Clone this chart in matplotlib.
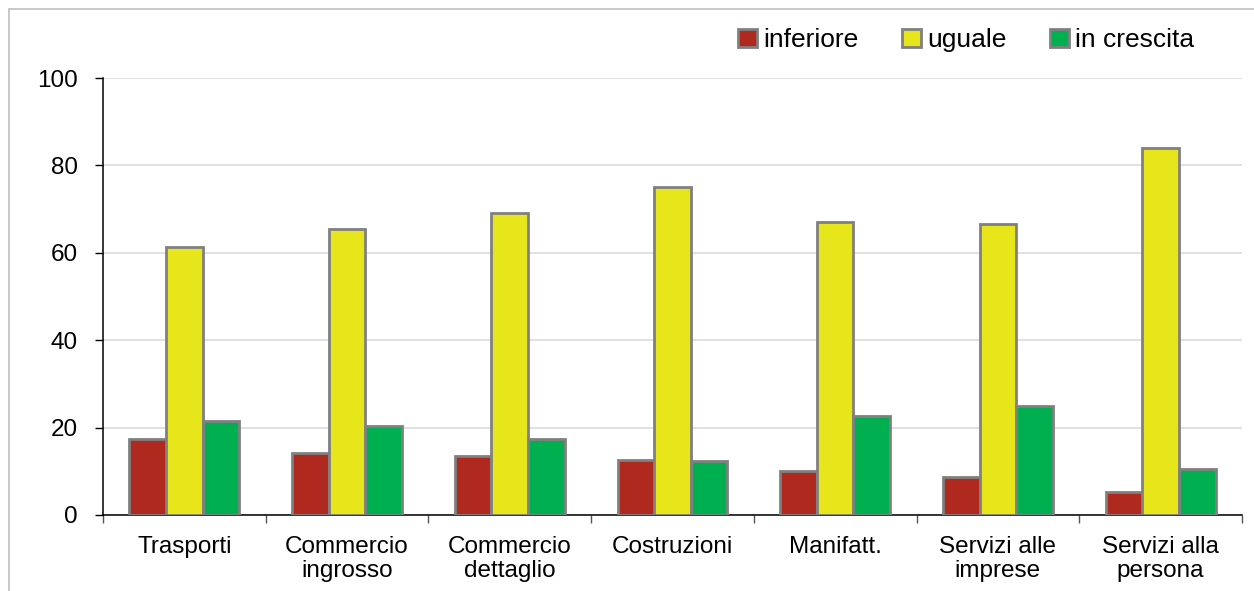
import numpy as np
import matplotlib
matplotlib.use("Agg")
import matplotlib.pyplot as plt
from matplotlib.patches import Rectangle

plt.rcParams['font.family'] = ['Liberation Sans', 'DejaVu Sans']

categorie = ['Trasporti', 'Commercio\ningrosso', 'Commercio\ndettaglio', 'Costruzioni',
             'Manifatt.', 'Servizi alle\nimprese', 'Servizi alla\npersona']
inferiore = [17.3, 14.3, 13.6, 12.6, 10.1, 8.7, 5.2]
uguale = [61.3, 65.5, 69.1, 75.1, 67.0, 66.6, 84.0]
in_crescita = [21.5, 20.4, 17.4, 12.3, 22.7, 24.9, 10.5]

serie = [('inferiore', inferiore, '#B0291E'),
         ('uguale', uguale, '#E6E61A'),
         ('in crescita', in_crescita, '#00AF50')]

fig = plt.figure(figsize=(12.54, 5.91), dpi=100)
ax = fig.add_axes([0.0821, 0.1286, 0.9083, 0.7394])

# cornice grigia del grafico
fig.patches.append(Rectangle((9/1254, -0.5), 2, 1.5 - 9/591, transform=fig.transFigure,
                             fill=False, edgecolor='#BFBFBF', linewidth=1.2))

x = np.arange(len(categorie))
w = 0.225
for i, (nome, val, col) in enumerate(serie):
    ax.bar(x + (i - 1)*w, val, w, color=col, edgecolor='#808080', linewidth=2.0,
           label=nome, zorder=3)

ax.set_ylim(0, 100)
ax.set_xlim(-0.5, len(categorie) - 0.5)
ax.set_yticks(np.arange(0, 101, 20))
ax.yaxis.grid(True, color='#D9D9D9', linewidth=1.1, zorder=0)
ax.set_xticks(np.arange(-0.5, len(categorie)), labels=[])
ax.set_xticks(x, labels=categorie, minor=True)
for t in ax.get_xticklabels(minor=True):
    t.set_linespacing(1.15)
ax.tick_params(axis='x', which='major', length=6, width=1, color='#555555', direction='out')
ax.tick_params(axis='x', which='minor', length=0, pad=15, labelsize=17.5)
ax.tick_params(axis='y', length=6, width=1, pad=12, labelsize=17.5)
for s in ['top', 'right']:
    ax.spines[s].set_visible(False)
ax.spines['left'].set_linewidth(1.1)
ax.spines['bottom'].set_linewidth(1.1)

fig.legend(loc='center right', bbox_to_anchor=(1205/1254, 1 - 40/591), ncol=3, frameon=False,
           fontsize=19, handlelength=0.7, handleheight=0.7, handletextpad=0.25,
           columnspacing=1.65, borderaxespad=0)

fig.savefig('out.png', dpi=100)
